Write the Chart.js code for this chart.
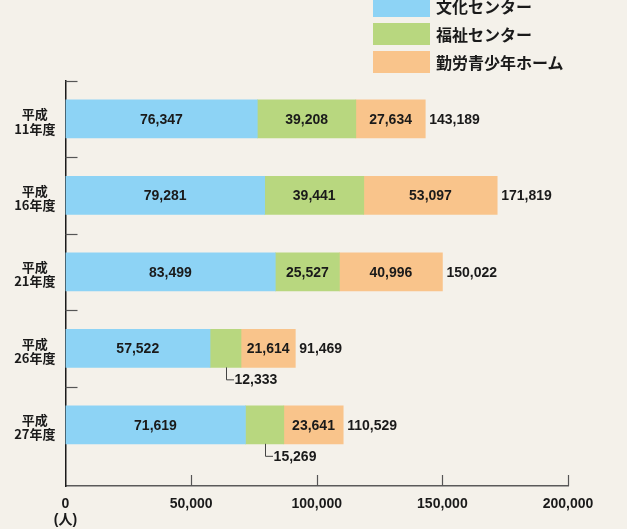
<!DOCTYPE html>
<html lang="ja">
<head>
<meta charset="utf-8">
<script src="https://cdn.jsdelivr.net/npm/chart.js@4.4.0/dist/chart.umd.min.js"></script>
<style>
  body { margin: 0; background: #f4f1ea; }
  #wrap { position: relative; width: 627px; height: 529px; overflow: hidden; }
  #legend { position: absolute; left: 373px; top: -5px; font: bold 16px "Noto Sans CJK JP", sans-serif; color: #1a1a1a; }
  .item { display: flex; align-items: center; height: 22px; margin-bottom: 6px; }
  .swatch { width: 57px; height: 22px; margin-right: 6px; }
</style>
</head>
<body>
<div id="wrap">
  <canvas id="chart" width="627" height="529"></canvas>
  <div id="legend"></div>
</div>
<script>
// 施設別利用者数
const categories = [
  ['平成', '11年度'],
  ['平成', '16年度'],
  ['平成', '21年度'],
  ['平成', '26年度'],
  ['平成', '27年度']
];
const seriesNames = ['文化センター', '福祉センター', '勤労青少年ホーム'];
const bunka = [76347, 79281, 83499, 57522, 71619];
const fukushi = [39208, 39441, 25527, 12333, 15269];
const kinro = [27634, 53097, 40996, 21614, 23641];
const xTicks = [0, 50000, 100000, 150000, 200000];
const colors = ['#8dd3f5', '#b8d77f', '#f9c48b'];

const numFont = '"Liberation Sans", Arial, "Noto Sans CJK JP", sans-serif';
const fmt = v => v.toLocaleString('en-US');

// legend
const legendEl = document.getElementById('legend');
seriesNames.forEach((name, i) => {
  const item = document.createElement('div');
  item.className = 'item';
  item.innerHTML = `<span class="swatch" style="background:${colors[i]}"></span><span>${name}</span>`;
  legendEl.appendChild(item);
});

const toPoints = arr => arr.map((v, i) => ({ x: v, y: i }));

// inward tick marks on both axes
const axisMarks = {
  id: 'axisMarks',
  afterDraw(chart) {
    const { ctx, chartArea } = chart;
    const xs = chart.scales.x, ys = chart.scales.y;
    ctx.save();
    ctx.strokeStyle = '#555';
    ctx.lineWidth = 1.2;
    for (let i = 0; i < categories.length; i++) {
      const y = Math.round(ys.getPixelForValue(i - 0.5)) + 0.5;
      ctx.beginPath();
      ctx.moveTo(chartArea.left, y);
      ctx.lineTo(chartArea.left + 12, y);
      ctx.stroke();
    }
    xTicks.slice(1).forEach(v => {
      const x = Math.round(xs.getPixelForValue(v)) + 0.5;
      ctx.beginPath();
      ctx.moveTo(x, chartArea.bottom);
      ctx.lineTo(x, chartArea.bottom - 11);
      ctx.stroke();
    });
    ctx.restore();
  }
};

// value labels in the bars, totals at the end
const barLabels = {
  id: 'barLabels',
  afterDatasetsDraw(chart) {
    const { ctx } = chart;
    ctx.save();
    ctx.font = 'bold 14px ' + numFont;
    ctx.fillStyle = '#1a1a1a';
    ctx.textBaseline = 'middle';
    const n = chart.data.datasets.length;
    chart.data.datasets.forEach((ds, di) => {
      const meta = chart.getDatasetMeta(di);
      meta.data.forEach((bar, i) => {
        const v = ds.data[i].x;
        const w = Math.abs(bar.x - bar.base);
        const mid = (bar.x + bar.base) / 2;
        if (w > 50) {
          ctx.textAlign = 'center';
          ctx.fillText(fmt(v), mid, bar.y + 1);
        } else {
          // too narrow: pull the value out below the bar
          const top = bar.y + bar.height / 2;
          ctx.strokeStyle = '#444';
          ctx.lineWidth = 1;
          ctx.beginPath();
          ctx.moveTo(Math.round(mid) + 0.5, top);
          ctx.lineTo(Math.round(mid) + 0.5, top + 12.5);
          ctx.lineTo(Math.round(mid) + 8, top + 12.5);
          ctx.stroke();
          ctx.textAlign = 'left';
          ctx.fillText(fmt(v), mid + 9, top + 13);
        }
        if (di === n - 1) {
          const total = bunka[i] + fukushi[i] + kinro[i];
          ctx.textAlign = 'left';
          ctx.fillText(fmt(total), bar.x + 4, bar.y + 1);
        }
      });
    });
    ctx.restore();
  }
};

new Chart(document.getElementById('chart'), {
  type: 'bar',
  data: {
    datasets: [
      { label: seriesNames[0], data: toPoints(bunka), backgroundColor: colors[0] },
      { label: seriesNames[1], data: toPoints(fukushi), backgroundColor: colors[1] },
      { label: seriesNames[2], data: toPoints(kinro), backgroundColor: colors[2] }
    ]
  },
  options: {
    indexAxis: 'y',
    responsive: false,
    animation: false,
    barThickness: 38,
    borderWidth: 0,
    layout: { padding: { top: 80.7, right: 59, left: 0, bottom: 0 } },
    plugins: { legend: { display: false }, tooltip: { enabled: false } },
    scales: {
      x: {
        type: 'linear',
        stacked: true,
        offset: false,
        min: 0,
        max: 200000,
        afterBuildTicks: s => { s.ticks = xTicks.map(v => ({ value: v })); },
        afterFit: s => { s.height = 43; },
        grid: { display: false, drawTicks: false },
        border: { display: true, color: '#5a5a5a', width: 1.5 },
        ticks: {
          padding: 10,
          color: '#1a1a1a',
          maxRotation: 0,
          font: { family: numFont, size: 14, weight: 'bold', lineHeight: 1.15 },
          callback: v => v === 0 ? ['0', '(人)'] : fmt(v)
        }
      },
      y: {
        type: 'linear',
        stacked: true,
        offset: false,
        reverse: true,
        min: -0.5,
        max: 4.8,
        afterBuildTicks: s => { s.ticks = categories.map((c, i) => ({ value: i })); },
        afterFit: s => { s.width = 65.5; },
        grid: { display: false, drawTicks: false },
        border: { display: true, color: '#1a1a1a', width: 1.5 },
        ticks: {
          padding: 10,
          crossAlign: 'center',
          labelOffset: 2.5,
          color: '#1a1a1a',
          font: { family: '"Noto Sans CJK JP", sans-serif', size: 13, weight: 'bold', lineHeight: 1.1 },
          callback: v => categories[v]
        }
      }
    }
  },
  plugins: [axisMarks, barLabels]
});
</script>
</body>
</html>
